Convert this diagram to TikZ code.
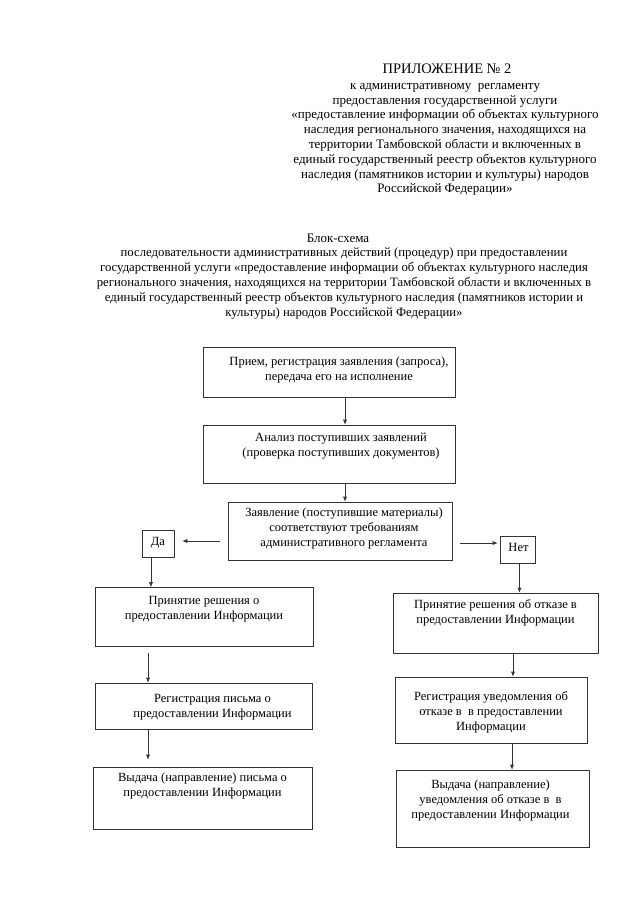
\documentclass[tikz,border=0pt]{standalone}
\usepackage{fontspec}
\setmainfont{Liberation Serif}
\usetikzlibrary{arrows.meta}
\begin{document}
\begin{tikzpicture}[x=1pt,y=-1pt,
  box/.style={draw=black!80, line width=0.6pt, inner sep=0pt},
  txt/.style={align=center, inner sep=0pt, anchor=north, font=\fontsize{12.5}{15}\selectfont, text=black},
  head/.style={align=center, inner sep=0pt, anchor=north, font=\fontsize{13}{14.8}\selectfont, text=black},
  arr/.style={draw=black!80, line width=0.6pt, -{Latex[length=5pt,width=4pt]}}]
\useasboundingbox (0,0) rectangle (640,905);
\fill[white] (0,0) rectangle (640,905);

% header
\node[head, font=\fontsize{14.5}{16}\selectfont] (title) at (447,64) {ПРИЛОЖЕНИЕ № 2};
\node[head] (sub) at (445,83) {к административному\ \ регламенту\\
предоставления государственной услуги\\
«предоставление информации об объектах культурного\\
наследия регионального значения, находящихся на\\
территории Тамбовской области и включенных в\\
единый государственный реестр объектов культурного\\
наследия (памятников истории и культуры) народов\\
Российской Федерации»};

\node[head] (bs) at (338,233.5) {Блок-схема};
\node[head, font=\fontsize{12.75}{15}\selectfont] (bstext) at (344,247.5) {последовательности административных действий (процедур) при предоставлении\\
государственной услуги «предоставление информации об объектах культурного наследия\\
регионального значения, находящихся на территории Тамбовской области и включенных в\\
единый государственный реестр объектов культурного наследия (памятников истории и\\
культуры) народов Российской Федерации»};

% boxes
\node[box, minimum width=252pt, minimum height=50pt] (b1) at (329,372) {};
\node[txt] (t1) at ([xshift=10pt,yshift=-10pt]b1.north) {Прием, регистрация заявления (запроса),\\передача его на исполнение};

\node[box, minimum width=252pt, minimum height=58pt] (b2) at (329,454) {};
\node[txt] (t2) at ([xshift=12pt,yshift=-8pt]b2.north) {Анализ поступивших заявлений\\(проверка поступивших документов)};

\node[box, minimum width=224pt, minimum height=58pt] (b3) at (340,531) {};
\node[txt] (t3) at ([xshift=4pt,yshift=-6pt]b3.north) {Заявление (поступившие материалы)\\соответствуют требованиям\\административного регламента};

\node[box, minimum width=32pt, minimum height=27pt] (da) at (158,543.5) {};
\node[txt] (tda) at ([yshift=-7pt]da.north) {Да};

\node[box, minimum width=35pt, minimum height=27pt] (net) at (517.5,549.5) {};
\node[txt] (tnet) at ([xshift=1pt,yshift=-7pt]net.north) {Нет};

\node[box, minimum width=218pt, minimum height=59pt] (b4) at (204,617) {};
\node[txt] (t4) at ([yshift=-9pt]b4.north) {Принятие решения о\\предоставлении Информации};

\node[box, minimum width=205pt, minimum height=60pt] (b5) at (495.5,623) {};
\node[txt] (t5) at ([yshift=-7pt]b5.north) {Принятие решения об отказе в\\предоставлении Информации};

\node[box, minimum width=217pt, minimum height=46pt] (b6) at (203.5,706) {};
\node[txt] (t6) at ([xshift=9pt,yshift=-11pt]b6.north) {Регистрация письма о\\предоставлении Информации};

\node[box, minimum width=219pt, minimum height=62pt] (b7) at (202.5,798) {};
\node[txt] (t7) at ([yshift=-6pt]b7.north) {Выдача (направление) письма о\\предоставлении Информации};

\node[box, minimum width=192pt, minimum height=66pt] (b8) at (491,710) {};
\node[txt] (t8) at ([yshift=-15pt]b8.north) {Регистрация уведомления об\\отказе в\ \ в предоставлении\\Информации};

\node[box, minimum width=193pt, minimum height=77pt] (b9) at (492.5,808.5) {};
\node[txt] (t9) at ([xshift=-2pt,yshift=-10pt]b9.north) {Выдача (направление)\\уведомления об отказе в\ \ в\\предоставлении Информации};

% arrows
\coordinate (dax) at ([xshift=-7pt]da.south);
\coordinate (netx) at ([xshift=2pt]net.south);
\draw[arr] ([xshift=16pt]b1.south) -- ([xshift=16pt]b2.north);
\draw[arr] ([xshift=16pt]b2.south) -- ([xshift=5pt]b3.north);
\draw[arr] ([xshift=-8pt,yshift=-10pt]b3.west) -- ([xshift=8pt,yshift=2.5pt]da.east);
\draw[arr] ([xshift=8pt,yshift=-12pt]b3.east) -- ([xshift=-2pt,yshift=6.5pt]net.west);
\draw[arr] (dax) -- (dax |- b4.north);
\draw[arr] (netx) -- (netx |- b5.north);
\draw[arr] ([xshift=-56pt,yshift=-6pt]b4.south) -- ([xshift=-55.5pt]b6.north);
\draw[arr] ([xshift=-55.5pt]b6.south) -- ([xshift=-54.5pt,yshift=7pt]b7.north);
\draw[arr] ([xshift=17.5pt]b5.south) -- ([xshift=22pt]b8.north);
\draw[arr] ([xshift=21pt]b8.south) -- ([xshift=19.5pt]b9.north);
\end{tikzpicture}
\end{document}
